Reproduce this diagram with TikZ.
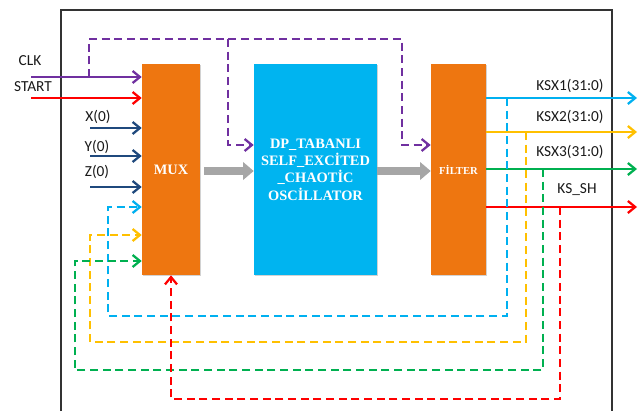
\documentclass[tikz,border=0pt]{standalone}
\usepackage{fontspec}
\setmainfont{Liberation Serif}
\newfontfamily\labelfont{Carlito}
\usepackage{tikz}
\usetikzlibrary{arrows.meta,shadows}

\definecolor{boxorange}{RGB}{238,118,16}
\definecolor{boxblue}{RGB}{0,180,240}
\definecolor{sigpurple}{RGB}{112,48,160}
\definecolor{sigred}{RGB}{255,0,0}
\definecolor{sigblue}{RGB}{31,73,125}
\definecolor{sigcyan}{RGB}{0,176,240}
\definecolor{sigyellow}{RGB}{255,192,0}
\definecolor{siggreen}{RGB}{0,176,80}
\definecolor{busgray}{RGB}{166,166,166}

\begin{document}
\begin{tikzpicture}[x=0.75pt,y=0.75pt,yscale=-1,xscale=1,
  sig/.style={line width=1.7pt,-{Straight Barb[length=5.5pt,width=9pt,line width=1.7pt]}},
  fb/.style={sig,dash pattern=on 6pt off 3.5pt},
  blk/.style={draw=none,minimum height=158.25pt,inner sep=0pt,text=white,
    font=\bfseries\fontsize{10.8}{13}\selectfont,align=center,
    drop shadow={shadow xshift=1pt,shadow yshift=-1pt,fill=black!35}},
  lbl/.style={font=\labelfont\fontsize{11.5}{13}\selectfont,text=black!90,inner sep=0pt},
  bus/.style={busgray,line width=6pt,-{Triangle[length=8pt,width=13pt]}}]
\useasboundingbox (0,0) rectangle (641,411);

%Frame
\draw [black!80,line width=1.1pt] (61,411) -- (61,10) -- (612,10) -- (612,411) ;

%Blocks
\node [blk,fill=boxorange,minimum width=43.5pt] (mux) at (171,169.5) {MUX};
\node [blk,fill=boxblue,minimum width=92.25pt] (osc) at (315.5,169.5) {DP\_TABANLI\\SELF\_EXCİTED\\\_CHAOTİC\\OSCİLLATOR};
\node [blk,fill=boxorange,minimum width=41.25pt,font=\bfseries\fontsize{8}{10}\selectfont] (flt) at (458.5,169.5) {FİLTER};

%Bus arrows
\draw [bus,shorten <=3pt] (mux.east |- 0,171) -- (osc.west |- 0,171) ;
\draw [bus] (osc.east |- 0,171) -- (flt.west |- 0,171) ;

%Inputs
\coordinate (clkin) at (31,77);
\coordinate (startin) at (31,98);
\coordinate (xin) at (90,128);
\coordinate (yin) at (90,156);
\coordinate (zin) at (90,187);
\draw [sig,sigpurple] (clkin) -- (clkin -| mux.west) ;
\draw [sig,sigred] (startin) -- (startin -| mux.west) ;
\draw [sig,sigblue] (xin) -- (xin -| mux.west) ;
\draw [sig,sigblue] (yin) -- (yin -| mux.west) ;
\draw [sig,sigblue] (zin) -- (zin -| mux.west) ;
\node [lbl] (clklbl) at (30,61) {CLK};
\node [lbl] (startlbl) at (33,87) {START};
\node [lbl] (xlbl) at (98,117) {X(0)};
\node [lbl] (ylbl) at (97,147) {Y(0)};
\node [lbl] (zlbl) at (97,172) {Z(0)};

%Clock taps
\coordinate (clktap) at (89,77);
\coordinate (pcorner) at (402,39);
\coordinate (pturn) at (402,145);
\coordinate (pbranch) at (228,39);
\coordinate (pturn2) at (228,145);
\draw [fb,sigpurple] (clktap) |- (pcorner) -- (pturn) -- (pturn -| flt.west) ;
\draw [fb,sigpurple] (pbranch) -- (pturn2) -- (pturn2 -| osc.west) ;

%Outputs
\coordinate (ksx1) at (637,98);
\coordinate (ksx2) at (637,132);
\coordinate (ksx3) at (637,169);
\coordinate (kssh) at (637,207);
\draw [sig,sigcyan] (ksx1 -| flt.east) -- (ksx1) ;
\draw [sig,sigyellow] (ksx2 -| flt.east) -- (ksx2) ;
\draw [sig,siggreen] (ksx3 -| flt.east) -- (ksx3) ;
\draw [sig,sigred] (kssh -| flt.east) -- (kssh) ;
\node [lbl] (ksx1lbl) at (570,86) {KSX1(31:0)};
\node [lbl] (ksx2lbl) at (570,117) {KSX2(31:0)};
\node [lbl] (ksx3lbl) at (570,152) {KSX3(31:0)};
\node [lbl] (ksshlbl) at (577,190) {KS\_SH};

%Feedback loops
\coordinate (tap1) at (507,98);
\coordinate (low1) at (108,316);
\coordinate (in1) at (108,207);
\draw [fb,sigcyan] (tap1) |- (low1) -- (in1) -- (in1 -| mux.west) ;
\coordinate (tap2) at (526,132);
\coordinate (low2) at (90,342);
\coordinate (in2) at (90,235);
\draw [fb,sigyellow] (tap2) |- (low2) -- (in2) -- (in2 -| mux.west) ;
\coordinate (tap3) at (543,169);
\coordinate (low3) at (75,370);
\coordinate (in3) at (75,261);
\draw [fb,siggreen] (tap3) |- (low3) -- (in3) -- (in3 -| mux.west) ;
\coordinate (tap4) at (560,207);
\coordinate (low4) at (171,399);
\draw [fb,sigred] (tap4) |- (low4) -- (mux.south) ;

\end{tikzpicture}
\end{document}
